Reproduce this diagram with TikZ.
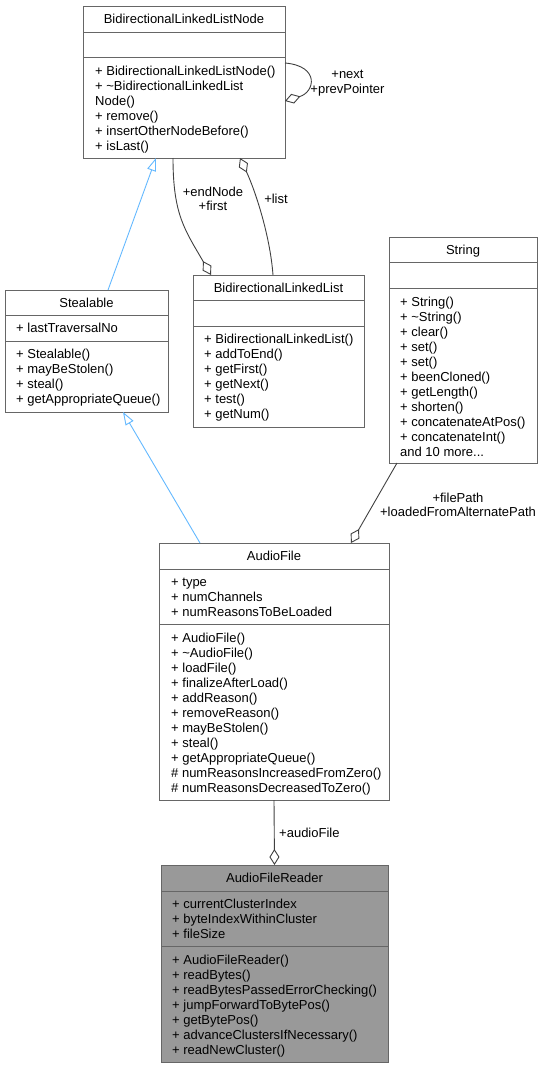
\documentclass[tikz,border=0pt]{standalone}
\usepackage{fontspec}
\setmainfont{Liberation Sans}
\usetikzlibrary{arrows.meta}
\definecolor{boxline}{HTML}{666666}
\definecolor{edgeline}{HTML}{404040}
\definecolor{inhline}{HTML}{63B8FF}
\definecolor{hlfill}{HTML}{999999}
\tikzset{
  every node/.style={font=\fontsize{13}{15}\selectfont, inner sep=0pt},
  box/.style={draw=boxline, line width=0.9pt, anchor=north west, inner sep=0pt, outer sep=0pt},
  sepline/.style={draw=boxline, line width=0.9pt},
  member/.style={anchor=base west},
  ttl/.style={anchor=base},
  inh/.style={draw=inhline, line width=0.9pt, -{Triangle[open, length=13pt, width=9pt]}},
  agg/.style={draw=edgeline, line width=0.9pt, -{Diamond[open, length=16pt, width=10pt]}},
  lbl/.style={align=center, font=\fontsize{13}{14.5}\selectfont},
}
\newcommand\classbox[8]{%
  \node[box, fill=#8, minimum width={#4-#2}, minimum height={#5-#3}] (#1) at (#2,#3) {};
  \draw[sepline] (#2,#6) -- (#4,#6);
  \draw[sepline] (#2,#7) -- (#4,#7);
}
\newcommand\members[4]{%
  \foreach \t [count=\i from 0] in {#4} \node[member] (#1-\i) at (#2,{#3+15*\i}) {\t};
}
\begin{document}
\begin{tikzpicture}[x=1pt,y=-1pt]
\useasboundingbox (0,0) rectangle (543,1068);

% BidirectionalLinkedListNode
\classbox{blln}{83}{6}{285}{158}{32}{57}{white}
\node[ttl] (blln-t) at (184,23.5) {BidirectionalLinkedListNode};
\members{bllnm}{95}{75.5}{+ BidirectionalLinkedListNode(),+ \textasciitilde BidirectionalLinkedList,Node(),+ remove(),+ insertOtherNodeBefore(),+ isLast()}

% Stealable
\classbox{steal}{5}{290}{168}{412}{315}{341}{white}
\node[ttl] (steal-t) at (86.5,307.5) {Stealable};
\members{steala}{16}{332.5}{+ lastTraversalNo}
\members{stealm}{16}{358.5}{+ Stealable(),+ mayBeStolen(),+ steal(),+ getAppropriateQueue()}

% BidirectionalLinkedList
\classbox{bll}{193}{275}{364}{427}{300}{326}{white}
\node[ttl] (bll-t) at (278.5,292.5) {BidirectionalLinkedList};
\members{bllm}{204}{343.5}{+ BidirectionalLinkedList(),+ addToEnd(),+ getFirst(),+ getNext(),+ test(),+ getNum()}

% String
\classbox{string}{389}{237}{537}{463}{262.5}{288}{white}
\node[ttl] (string-t) at (463,254.5) {String};
\members{stringm}{400}{306.5}{+ String(),+ \textasciitilde String(),+ clear(),+ set(),+ set(),+ beenCloned(),+ getLength(),+ shorten(),+ concatenateAtPos(),+ concatenateInt(),and 10 more.{}..}

% AudioFile
\classbox{af}{159}{543}{389}{800}{569}{624}{white}
\node[ttl] (af-t) at (274,560.5) {AudioFile};
\members{afa}{171}{586.5}{+ type,+ numChannels,+ numReasonsToBeLoaded}
\members{afm}{171}{642.5}{+ AudioFile(),+ \textasciitilde AudioFile(),+ loadFile(),+ finalizeAfterLoad(),+ addReason(),+ removeReason(),+ mayBeStolen(),+ steal(),+ getAppropriateQueue(),\# numReasonsIncreasedFromZero(),\# numReasonsDecreasedToZero()}

% AudioFileReader
\classbox{afr}{161}{865}{388}{1062}{891}{946}{hlfill}
\node[ttl] (afr-t) at (274.5,882.5) {AudioFileReader};
\members{afra}{172}{908.5}{+ currentClusterIndex,+ byteIndexWithinCluster,+ fileSize}
\members{afrm}{172}{964.5}{+ AudioFileReader(),+ readBytes(),+ readBytesPassedErrorChecking(),+ jumpForwardToBytePos(),+ getBytePos(),+ advanceClustersIfNecessary(),+ readNewCluster()}

% connector end points
\coordinate (i1s) at ([xshift=103pt]steal.north west);
\coordinate (i1e) at ([xshift=73pt]blln.south west);
\coordinate (i2s) at ([xshift=41pt]af.north west);
\coordinate (i2e) at ([xshift=118pt]steal.south west);
\coordinate (sls) at ([yshift=-57pt]blln.north east);
\coordinate (sle) at ([yshift=-95pt]blln.north east);
\coordinate (ens) at ([xshift=90pt]blln.south west);
\coordinate (ene) at ([xshift=18pt]bll.north west);
\coordinate (lis) at ([xshift=80pt]bll.north west);
\coordinate (lie) at ([xshift=157pt]blln.south west);
\coordinate (fps) at ([xshift=8pt]string.south west);
\coordinate (fpe) at ([xshift=192pt]af.north west);

% inheritance
\draw[inh] (i1s) -- (i1e);
\draw[inh] (i2s) -- (i2e);

% associations
\draw[agg] (sls) .. controls +(35,3) and +(30,-9) .. (sle);
\draw[agg] (ens) .. controls +(0,57) and +(-26,-45) .. (ene);
\draw[agg] (lis) .. controls +(-3,-40) and +(15,32) .. (lie);
\draw[agg] (fps) -- (fpe);
\draw[agg] (af.south) -- (afr.north);

% labels
\node[lbl] (l-next) at (347.5,83) {+next\\+prevPointer};
\node[lbl] (l-end) at (213,199) {+endNode\\+first};
\node[lbl] (l-list) at (276,199) {+list};
\node[lbl] (l-fp) at (458,505) {+filePath\\+loadedFromAlternatePath};
\node[lbl, anchor=west] (l-af) at (279,833) {+audioFile};
\end{tikzpicture}
\end{document}
